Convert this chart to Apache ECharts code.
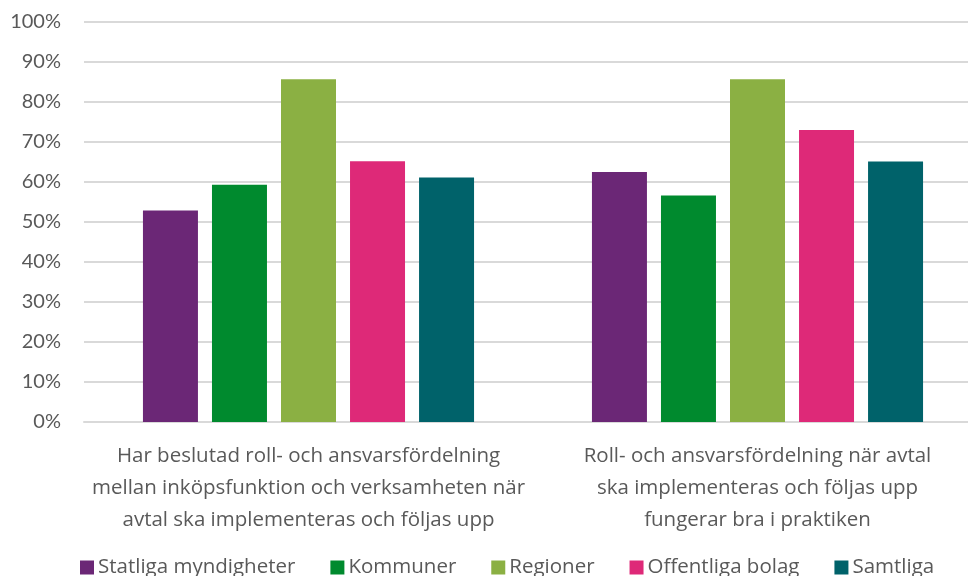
<!DOCTYPE html>
<html>
<head>
<meta charset="utf-8">
<script src="https://cdn.jsdelivr.net/npm/echarts@6/dist/echarts.min.js"></script>
<style>
  html, body { margin: 0; padding: 0; background: #fff; overflow: hidden; }
  /* plot area runs slightly past the right edge of the window, as in the original */
  #chart { width: 982px; height: 576px; }
</style>
</head>
<body>
<div id="chart"></div>
<script>
// Categories (wrapped as in the original)
const categories = [
    'Har beslutad roll- och ansvarsfördelning\nmellan inköpsfunktion och verksamheten när\navtal ska implementeras och följas upp',
    'Roll- och ansvarsfördelning när avtal\nska implementeras och följas upp\nfungerar bra i praktiken'
];

const seriesNames = ['Statliga myndigheter', 'Kommuner', 'Regioner', 'Offentliga bolag', 'Samtliga'];
const seriesColors = ['#6B2776', '#008A2E', '#8BB043', '#DE2978', '#00626A'];

// Values in percent
const statliga = [52.9, 62.5];
const kommuner = [59.3, 56.6];
const regioner = [85.7, 85.7];
const bolag = [65.2, 73.0];
const samtliga = [61.1, 65.1];

const seriesValues = [statliga, kommuner, regioner, bolag, samtliga];

const FONT = '"Open Sans", Lato, sans-serif';
const TEXT_COLOR = '#595959';

const chart = echarts.init(document.getElementById('chart'));

chart.setOption({
    animation: false,
    textStyle: { fontFamily: FONT },
    grid: { left: 84, top: 22, right: 0, bottom: 154, containLabel: false },
    legend: {
        top: 552,
        left: 75,
        itemWidth: 14,
        itemHeight: 14,
        itemGap: 35,
        icon: 'rect',
        textStyle: { fontSize: 20.5, color: TEXT_COLOR, fontFamily: FONT, padding: [0, 0, 0, -1] },
        data: seriesNames
    },
    xAxis: {
        type: 'category',
        data: categories,
        axisTick: { show: false },
        axisLine: { lineStyle: { color: '#d9d9d9', width: 2 } },
        axisLabel: {
            interval: 0,
            margin: 18,
            fontSize: 20.5,
            lineHeight: 32,
            color: TEXT_COLOR,
            fontFamily: FONT
        }
    },
    yAxis: {
        type: 'value',
        min: 0,
        max: 100,
        interval: 10,
        axisLine: { show: false },
        axisTick: { show: false },
        axisLabel: {
            formatter: '{value}%',
            fontSize: 20,
            margin: 23,
            color: TEXT_COLOR,
            fontFamily: 'Lato, sans-serif'
        },
        splitLine: { lineStyle: { color: '#d9d9d9', width: 2 } }
    },
    series: seriesNames.map((name, i) => ({
        name: name,
        type: 'bar',
        data: seriesValues[i],
        barWidth: 55,
        barGap: '25.5%',
        itemStyle: { color: seriesColors[i] }
    }))
});
</script>
</body>
</html>
